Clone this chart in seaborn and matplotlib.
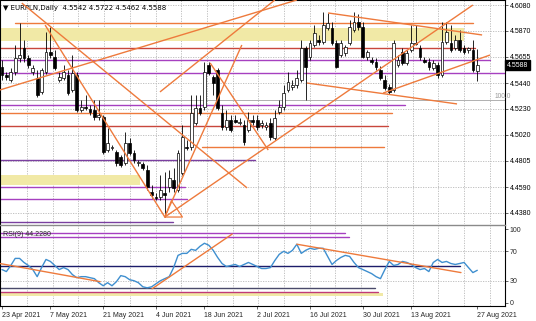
import numpy as np
import pandas as pd
import matplotlib
matplotlib.use("Agg")
import matplotlib.pyplot as plt
import seaborn as sns

# ---------------- data ----------------
opens = [4.5573, 4.5508, 4.5467, 4.5532, 4.5647, 4.5728, 4.5647, 4.5532, 4.5483, 4.5369,
         4.5532, 4.5696, 4.5655, 4.5467, 4.5483, 4.5508, 4.5385, 4.5508, 4.5221, 4.5246,
         4.5230, 4.5221, 4.5164, 4.5164, 4.4894, 4.4911, 4.4878, 4.4837, 4.4788, 4.4952,
         4.4870, 4.4788, 4.4780, 4.4731, 4.4551, 4.4510, 4.4510, 4.4543, 4.4592, 4.4649,
         4.4567, 4.4706, 4.4919, 4.4919, 4.5115, 4.5238, 4.5246, 4.5589, 4.5491, 4.5548,
         4.5197, 4.5083, 4.5140, 4.5140, 4.5115, 4.5099, 4.5058, 4.5140, 4.5140, 4.5099,
         4.5083, 4.5115, 4.4992, 4.5205, 4.5246, 4.5385, 4.5409, 4.5426, 4.5467, 4.5728,
         4.5655, 4.5753, 4.5794, 4.5777, 4.5892, 4.5892, 4.5769, 4.5671, 4.5688, 4.5769,
         4.5876, 4.5941, 4.5900, 4.5655, 4.5630, 4.5614, 4.5548, 4.5467, 4.5409, 4.5385,
         4.5589, 4.5696, 4.5606, 4.5712, 4.5769, 4.5728, 4.5630, 4.5614, 4.5565, 4.5589,
         4.5508, 4.5777, 4.5769, 4.5728, 4.5794, 4.5728, 4.5712, 4.5712, 4.5542]
highs = [4.5630, 4.5532, 4.5565, 4.5753, 4.5933, 4.5794, 4.5671, 4.5589, 4.5548, 4.5565,
         4.5859, 4.5900, 4.5712, 4.5532, 4.5589, 4.5548, 4.5671, 4.5532, 4.5303, 4.5344,
         4.5262, 4.5303, 4.5303, 4.5181, 4.5074, 4.4935, 4.4894, 4.4853, 4.5042, 4.4992,
         4.4894, 4.4813, 4.4796, 4.4772, 4.4608, 4.4543, 4.4690, 4.4714, 4.4731, 4.4747,
         4.4894, 4.5099, 4.4976, 4.5344, 4.5344, 4.5344, 4.5614, 4.5614, 4.5508, 4.5565,
         4.5262, 4.5221, 4.5181, 4.5181, 4.5156, 4.5140, 4.5205, 4.5181, 4.5181, 4.5140,
         4.5123, 4.5156, 4.5221, 4.5303, 4.5426, 4.5532, 4.5467, 4.5548, 4.5794, 4.5745,
         4.5794, 4.5916, 4.5835, 4.6023, 4.6015, 4.5941, 4.5794, 4.5794, 4.5753, 4.5957,
         4.6023, 4.6006, 4.5941, 4.5712, 4.5655, 4.5647, 4.5581, 4.5508, 4.5434, 4.5794,
         4.5671, 4.5728, 4.5712, 4.5916, 4.5916, 4.5753, 4.5655, 4.5647, 4.5630, 4.5614,
         4.5941, 4.5941, 4.5916, 4.5835, 4.5876, 4.5753, 4.5737, 4.5794, 4.5722]
lows = [4.5467, 4.5467, 4.5450, 4.5508, 4.5614, 4.5614, 4.5565, 4.5508, 4.5328, 4.5352,
        4.5516, 4.5647, 4.5548, 4.5450, 4.5467, 4.5344, 4.5369, 4.5205, 4.5205, 4.5221,
        4.5181, 4.5140, 4.5140, 4.4862, 4.4878, 4.4894, 4.4764, 4.4755, 4.4772, 4.4853,
        4.4788, 4.4764, 4.4731, 4.4567, 4.4502, 4.4485, 4.4485, 4.4346, 4.4551, 4.4551,
        4.4551, 4.4690, 4.4894, 4.4894, 4.5099, 4.5181, 4.5221, 4.5508, 4.5344, 4.5221,
        4.5058, 4.5058, 4.5042, 4.5115, 4.5099, 4.4935, 4.5042, 4.5099, 4.5058, 4.5074,
        4.5058, 4.4976, 4.4976, 4.5189, 4.5221, 4.5369, 4.5385, 4.5401, 4.5450, 4.5303,
        4.5630, 4.5737, 4.5753, 4.5761, 4.5876, 4.5753, 4.5565, 4.5655, 4.5663, 4.5753,
        4.5859, 4.5876, 4.5647, 4.5630, 4.5597, 4.5548, 4.5467, 4.5385, 4.5352, 4.5369,
        4.5573, 4.5589, 4.5589, 4.5696, 4.5753, 4.5630, 4.5606, 4.5548, 4.5548, 4.5483,
        4.5491, 4.5761, 4.5696, 4.5712, 4.5696, 4.5679, 4.5688, 4.5532, 4.5462]
closes = [4.5508, 4.5491, 4.5532, 4.5647, 4.5671, 4.5647, 4.5589, 4.5565, 4.5344, 4.5548,
          4.5696, 4.5671, 4.5565, 4.5491, 4.5532, 4.5360, 4.5524, 4.5221, 4.5246, 4.5238,
          4.5205, 4.5164, 4.5181, 4.4878, 4.4952, 4.4919, 4.4788, 4.4772, 4.4952, 4.4870,
          4.4813, 4.4796, 4.4747, 4.4592, 4.4526, 4.4502, 4.4567, 4.4526, 4.4665, 4.4584,
          4.4870, 4.5001, 4.4911, 4.5197, 4.5238, 4.5197, 4.5532, 4.5524, 4.5442, 4.5238,
          4.5083, 4.5140, 4.5058, 4.5123, 4.5123, 4.4960, 4.5140, 4.5123, 4.5083, 4.5115,
          4.5099, 4.5001, 4.5156, 4.5246, 4.5360, 4.5450, 4.5426, 4.5483, 4.5728, 4.5573,
          4.5769, 4.5851, 4.5777, 4.5916, 4.5933, 4.5769, 4.5573, 4.5769, 4.5737, 4.5900,
          4.5941, 4.5900, 4.5655, 4.5696, 4.5614, 4.5573, 4.5483, 4.5401, 4.5369, 4.5769,
          4.5630, 4.5606, 4.5688, 4.5769, 4.5761, 4.5655, 4.5614, 4.5573, 4.5606, 4.5508,
          4.5777, 4.5859, 4.5712, 4.5794, 4.5712, 4.5696, 4.5728, 4.5548, 4.5588]
rsi = [45.2, 42.5, 50.7, 60.3, 60.3, 54.8, 50.7, 45.2, 35.6, 47.9,
       58.9, 56.2, 50.7, 45.2, 47.9, 45.2, 38.4, 34.2, 35.6, 35.6,
       34.2, 32.9, 27.4, 23.3, 27.4, 23.3, 28.8, 37.0, 35.6, 31.5,
       30.1, 27.4, 21.9, 20.5, 21.9, 26.0, 30.1, 32.9, 35.6, 47.9,
       64.4, 67.1, 67.1, 72.6, 71.2, 76.7, 80.8, 78.1, 71.2, 61.6,
       53.4, 49.3, 50.7, 52.1, 49.3, 52.1, 54.8, 52.1, 49.3, 46.6,
       46.6, 47.9, 57.5, 65.8, 69.9, 67.1, 71.2, 79.5, 67.1, 71.2,
       74.0, 72.6, 74.0, 74.0, 63.0, 52.1, 57.5, 61.6, 64.4, 63.0,
       54.8, 47.9, 45.2, 42.5, 39.7, 35.6, 32.9, 45.2, 56.2, 50.7,
       52.1, 56.2, 54.8, 52.1, 47.9, 45.2, 46.6, 42.5, 54.8, 58.9,
       54.8, 56.2, 53.4, 52.1, 53.4, 54.8, 47.9, 41.1, 44.2]

date_pos = [0, 11, 23, 35, 46, 58, 70, 82, 93, 108]
date_labels = ["23 Apr 2021", "7 May 2021", "21 May 2021", "4 Jun 2021", "18 Jun 2021",
               "2 Jul 2021", "16 Jul 2021", "30 Jul 2021", "13 Aug 2021", "27 Aug 2021"]
price_ticks = [4.6080, 4.5870, 4.5655, 4.5440, 4.5230, 4.5020, 4.4805, 4.4590, 4.4380]
rsi_ticks = [100, 70, 30, 0]

# horizontal levels: (price, start_bar, end_bar, colour, width)
h_levels = [
    (4.5933, 3.0, 107.0, "#ee7a3c", 1.0),
    (4.5728, -1, 107.5, "#c8463c", 1.0),
    (4.5630, -1, 111.0, "#a640c0", 1.0),
    (4.5524, -1, 115.0, "#a640c0", 1.0),
    (4.5303, -1, 115.0, "#b0b0b0", 0.7),
    (4.5262, -1, 91.6, "#a640c0", 1.0),
    (4.5197, -1, 88.6, "#ee7a3c", 1.0),
    (4.5091, -1, 87.7, "#c8463c", 1.0),
    (4.4919, 45.5, 86.8, "#ee7a3c", 1.0),
    (4.4813, -1, 57.5, "#7a3fa0", 1.0),
    (4.4592, -1, 41.6, "#a640c0", 1.0),
    (4.4494, -1, 42.0, "#a640c0", 1.0),
    (4.4306, -1, 38.9, "#7a3fa0", 1.0),
]
zones = [(4.5889, 4.5788, -1, 105.0), (4.4690, 4.4608, -1, 31.4)]

# trend lines: (bar0, price0, bar1, price1)
trend_lines = [
    (4.5, 4.6096, 55.7, 4.4584),
    (9.8, 4.5916, 37.0, 4.4346),
    (-0.5, 4.5385, 67.0, 4.6121),
    (37.0, 4.4346, 54.5, 4.5753),
    (37.0, 4.4346, 107.0, 4.6080),
    (35.9, 4.5369, 62.0, 4.6121),
    (47.3, 4.5606, 60.5, 4.4894),
    (74.1, 4.6015, 109.1, 4.5835),
    (69.3, 4.5442, 103.4, 4.5271),
    (86.6, 4.5360, 110.9, 4.5671),
]

rsi_levels = [(94.5, 78.0, "#a640c0"), (89.0, 78.9, "#a640c0"), (50.0, 104.0, "#1c1c6a"),
              (20.5, 84.8, "#4a4a6a"), (15.5, 85.5, "#c03a78")]
rsi_zone = (13.7, 9.6, 86.6)
rsi_trends = [(-0.5, 53.4, 22.3, 28.8), (34.1, 19.2, 52.3, 93.2), (67.0, 79.5, 104.3, 41.1)]

# ---------------- drawing ----------------
sns.set_theme(style="white")
plt.rcParams['font.family'] = ['Liberation Sans', 'DejaVu Sans']

W, H = 536, 321
fig = plt.figure(figsize=(W / 100, H / 100), dpi=100)
fig.patch.set_facecolor("white")

def frac(x0, y0, x1, y1):
    return [x0 / W, 1 - y1 / H, (x1 - x0) / W, (y1 - y0) / H]

ax = fig.add_axes(frac(0, 0, 505, 224))
ax2 = fig.add_axes(frac(0, 225, 505, 306))

n = len(closes)
idx = np.arange(n)
df = pd.DataFrame({"bar": idx, "open": opens, "high": highs, "low": lows, "close": closes, "rsi": rsi})

xmin, xmax = -0.45, 114.3
ymax_p, ymin_p = 4.6121, 4.4289

grid_px = np.arange(27, 505, 25.7)
grid_bars = (grid_px - 2) / 4.4
for a in (ax, ax2):
    a.set_xlim(xmin, xmax)
    for g in grid_bars:
        a.axvline(g, color="#b8b8b8", lw=0.6, ls=(0, (1.5, 1.5)), zorder=0)
    for s in a.spines.values():
        s.set_color("black")
        s.set_linewidth(0.8)
    a.set_facecolor("white")
ax.spines["bottom"].set_visible(False)
ax2.spines["top"].set_color("#8a8a8a")
ax2.spines["top"].set_linewidth(1.0)

ax.set_ylim(ymin_p, ymax_p)
for p in price_ticks:
    ax.axhline(p, color="#b8b8b8", lw=0.6, ls=(0, (1.5, 1.5)), zorder=0)

for top, bot, b0, b1 in zones:
    ax.fill_between([b0, b1], bot, top, color="#f1e9a6", lw=0, zorder=0.5)

for p, b0, b1, c, lw in h_levels:
    ax.plot([b0, b1], [p, p], color=c, lw=lw, zorder=1)

# candles
up = df["close"] >= df["open"]
ax.vlines(df["bar"], df["low"], df["high"], color="black", lw=0.6, zorder=2)
body_lo = np.minimum(df["open"], df["close"])
body_h = np.maximum(np.abs(df["close"] - df["open"]), 0.00025)
ax.bar(df["bar"][up], body_h[up], bottom=body_lo[up], width=0.62, color="white",
       edgecolor="black", linewidth=0.5, zorder=3)
ax.bar(df["bar"][~up], body_h[~up], bottom=body_lo[~up], width=0.62, color="black",
       edgecolor="black", linewidth=0.5, zorder=3)

for b0, p0, b1, p1 in trend_lines:
    ax.plot([b0, b1], [p0, p1], color="#ee7a3c", lw=1.0, zorder=4, solid_capstyle="butt")

# small triangle at the June low
ax.plot([37.0, 41.0, 38.5, 37.0], [4.4346, 4.4346, 4.4480, 4.4346], color="#ee7a3c", lw=0.9, zorder=4)

ax.set_xticks([])
ax.yaxis.tick_right()
ax.set_yticks(price_ticks)
ax.set_yticklabels([f"{p:.4f}" for p in price_ticks], fontsize=5, color="black")
ax.tick_params(axis="y", length=2, width=0.5, pad=1.5, right=True, left=False)

ax.text(0.006, 0.978, "\u25bc EURPLN,Daily  4.5542 4.5722 4.5462 4.5588", transform=ax.transAxes,
        fontsize=5, va="top", ha="left", color="black",
        family=["DejaVu Sans"])
ax.text(112.0, 4.5303, "100.0", fontsize=4.8, color="#999999", ha="left", va="bottom")
ax.text(1.003, (4.5588 - ymin_p) / (ymax_p - ymin_p), "4.5588", transform=ax.transAxes,
        fontsize=5, color="white", ha="left", va="center",
        bbox=dict(boxstyle="square,pad=0.25", fc="black", ec="black"), clip_on=False)

# RSI panel
ax2.set_ylim(-4.1, 105.5)
for v in (70, 30):
    ax2.axhline(v, color="#b8b8b8", lw=0.6, ls=(0, (1.5, 1.5)), zorder=0)
for v, b1, c in rsi_levels:
    ax2.plot([-1, b1], [v, v], color=c, lw=1.0, zorder=1)
ax2.fill_between([-1, rsi_zone[2]], rsi_zone[1], rsi_zone[0], color="#f1e9a6", lw=0, zorder=0.5)
sns.lineplot(data=df, x="bar", y="rsi", ax=ax2, color="#3f8fcf", lw=1.0, zorder=3)
for b0, v0, b1, v1 in rsi_trends:
    ax2.plot([b0, b1], [v0, v1], color="#ee7a3c", lw=1.0, zorder=4)
ax2.set_xlabel("")
ax2.set_ylabel("")
ax2.yaxis.tick_right()
ax2.set_yticks(rsi_ticks)
ax2.set_yticklabels([str(v) for v in rsi_ticks], fontsize=5)
ax2.tick_params(axis="y", length=2, width=0.5, pad=1.5, right=True, left=False)
ax2.set_xticks(date_pos)
ax2.set_xticklabels(date_labels, fontsize=5, ha="left")
ax2.tick_params(axis="x", length=2.5, width=0.5, pad=1.5, bottom=True)
ax2.text(0.006, 0.93, "RSI(9) 44.2280", transform=ax2.transAxes, fontsize=5, va="top", ha="left")

fig.savefig("out.png", dpi=100, facecolor="white")
